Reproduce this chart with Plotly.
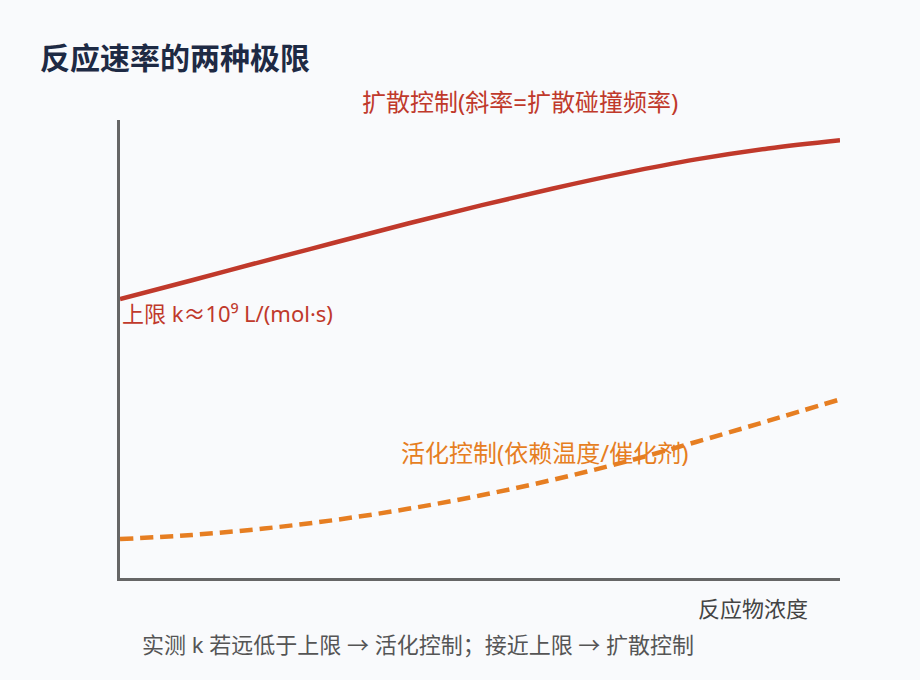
import plotly.graph_objects as go

# 反应物浓度 (arbitrary units)
conc = [0, 1, 2, 3, 4, 5, 6, 7, 8, 9, 10]
# 扩散控制 upper limit curve
rate_diffusion = [6.09, 6.50, 6.92, 7.33, 7.74, 8.13, 8.50, 8.84, 9.14, 9.38, 9.56]
# 活化控制 curve
rate_activation = [0.85, 0.94, 1.08, 1.27, 1.51, 1.80, 2.14, 2.53, 2.97, 3.43, 3.90]

font_cjk = "Noto Sans, Noto Sans CJK SC"
red = "#c0392b"
orange = "#e67e22"
bg = "#f9fafc"

fig = go.Figure()
fig.add_trace(go.Scatter(x=conc, y=rate_diffusion, mode="lines",
                         line=dict(color=red, width=4.5, shape="spline"),
                         showlegend=False, hoverinfo="skip"))
fig.add_trace(go.Scatter(x=conc, y=rate_activation, mode="lines",
                         line=dict(color=orange, width=4.5, shape="spline", dash="13px,7px"),
                         showlegend=False, hoverinfo="skip"))

fig.update_xaxes(range=[0, 10], showline=True, linecolor="#666", linewidth=3,
                 showgrid=False, zeroline=False, showticklabels=False, ticks="")
fig.update_yaxes(range=[0, 10], showline=True, linecolor="#666", linewidth=3,
                 showgrid=False, zeroline=False, showticklabels=False, ticks="")

fig.add_annotation(xref="paper", yref="paper", x=400 / 720, y=477 / 458, yanchor="middle",
                   text="扩散控制(斜率=扩散碰撞频率)", showarrow=False,
                   font=dict(family=font_cjk, size=24, color=red))
fig.add_annotation(x=0, y=5.79, xanchor="left", yanchor="middle",
                   text="上限 k≈10⁹ L/(mol·s)", showarrow=False,
                   font=dict(family=font_cjk, size=22, color=red))
fig.add_annotation(x=5.9, y=2.75, yanchor="middle", text="活化控制(依赖温度/催化剂)", showarrow=False,
                   font=dict(family=font_cjk, size=24, color=orange))
fig.add_annotation(xref="paper", yref="paper", x=0.958, y=-0.0655, xanchor="right", yanchor="middle",
                   text="反应物浓度", showarrow=False,
                   font=dict(family=font_cjk, size=22, color="#444"))
fig.add_annotation(xref="paper", yref="paper", x=0.0278, y=-0.144, xanchor="left", yanchor="middle",
                   text="实测 k 若远低于上限 → 活化控制；接近上限 → 扩散控制", showarrow=False,
                   font=dict(family=font_cjk, size=22, color="#555"))

fig.update_layout(
    width=920, height=680,
    margin=dict(l=120, r=80, t=120, b=102),
    paper_bgcolor=bg, plot_bgcolor=bg,
    title=dict(text="<b>反应速率的两种极限</b>", x=40 / 920, xanchor="left",
               y=1 - 58 / 680, yanchor="middle",
               font=dict(family=font_cjk, size=30, color="#1e2a44")),
)

fig.write_html("out.html", config={"displayModeBar": False},
               post_script="document.body.style.margin='0';document.body.style.background='%s';" % bg)
